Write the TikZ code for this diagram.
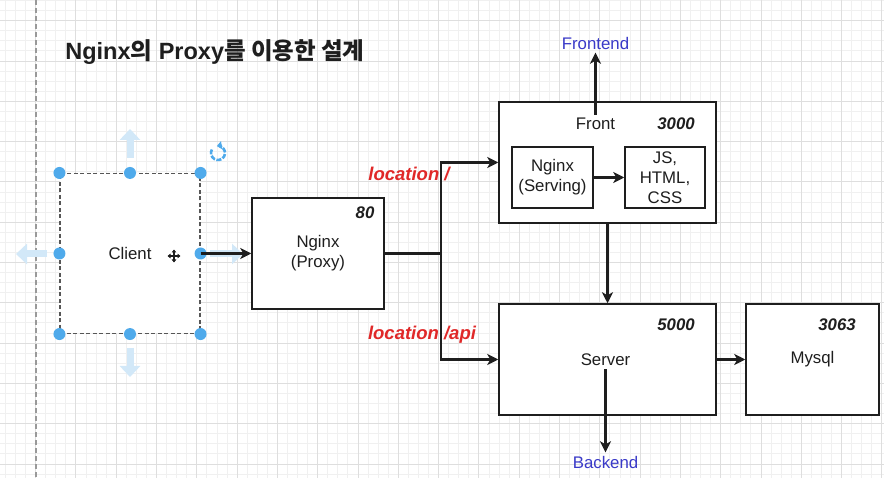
\documentclass[tikz,border=0pt]{standalone}
\usepackage{fontspec}
\setmainfont{Liberation Sans}
\newfontfamily\kr{Noto Sans CJK KR}
\usetikzlibrary{arrows.meta}
\definecolor{ink}{HTML}{1E1E1E}
\definecolor{locred}{HTML}{E02828}
\definecolor{linkblue}{HTML}{3A3AC8}
\definecolor{selblue}{HTML}{4FAAEB}
\definecolor{ghostblue}{HTML}{D2E8F8}
\definecolor{gridminor}{HTML}{F0F0F0}
\definecolor{gridmajor}{HTML}{DEDEDE}
\tikzset{
  box/.style={draw=ink, line width=1.5pt, fill=white, inner sep=0pt},
  wire/.style={draw=ink, line width=2.2pt},
  arr/.style={wire, -{Stealth[length=11pt,width=11pt,inset=3pt]}},
  port/.style={font=\fontsize{16.8}{20}\selectfont\bfseries\itshape},
  loc/.style={text=locred, font=\fontsize{18.5}{20}\selectfont\bfseries\itshape},
  link/.style={text=linkblue},
  handle/.style={circle, fill=selblue, minimum size=12pt, inner sep=0pt},
  ghost/.style={draw=ghostblue, line width=7pt, -{Triangle[length=11pt,width=20pt]}},
}
\begin{document}
\begin{tikzpicture}[x=1pt, y=-1pt,
    every node/.append style={font=\fontsize{16.8}{20}\selectfont, text=ink}]
  \fill[white] (0,0) rectangle (884,478);
  \clip (0,0) rectangle (884,478);
  \useasboundingbox (0,0) rectangle (884,478);
  % grid
  \foreach \i in {-3,...,84}
    \draw[gridminor, line width=0.9pt] ({35.6+10.075*\i},0) -- ({35.6+10.075*\i},478);
  \foreach \i in {-2,...,46}
    \draw[gridminor, line width=0.9pt] (0,{20.7+10.075*\i}) -- (884,{20.7+10.075*\i});
  \foreach \i in {-1,...,21}
    \draw[gridmajor, line width=0.9pt] ({35.6+40.3*\i},0) -- ({35.6+40.3*\i},478);
  \foreach \i in {-1,...,11}
    \draw[gridmajor, line width=0.9pt] (0,{20.7+40.3*\i}) -- (884,{20.7+40.3*\i});
  \draw[black!40, line width=1.2pt, dash pattern=on 5pt off 3pt] (36,0) -- (36,478);

  \node (title) at (215,52) {\fontsize{23.5}{28}\selectfont\bfseries Nginx{\kr 의} Proxy{\kr 를 이용한 설계}};

  % boxes
  \node[box, draw=ink!75, line width=1.1pt, dash pattern=on 4pt off 2.5pt, minimum width=140pt, minimum height=160pt] (client) at (130,253.5) {Client};
  \node[box, minimum width=132pt, minimum height=111pt, align=center] (proxy) at (318,253.5) {Nginx\\(Proxy)};
  \node[box, minimum width=217pt, minimum height=121pt] (front) at (607.5,162.5) {};
  \node[box, minimum width=81pt, minimum height=61pt, align=center] (serving) at (552.5,177.5) {Nginx\\(Serving)};
  \node[box, minimum width=80pt, minimum height=61pt, align=center] (static) at (665,177.5) {JS,\\HTML,\\CSS};
  \node[box, minimum width=217pt, minimum height=111pt] (server) at (607.5,359.5) {};
  \node[box, minimum width=133pt, minimum height=111pt] (mysql) at (812.5,359.5) {Mysql};

  \node (frontlbl) at (595.5,124) {Front};
  \node (serverlbl) at (605.5,360) {Server};
  \node[port] (p80) at (365,213) {80};
  \node[port] (p3000) at (676,124) {3000};
  \node[port] (p5000) at (676,325) {5000};
  \node[port] (p3063) at (837,325) {3063};
  \node[loc] (locfront) at (409,174) {location /};
  \node[loc] (locapi) at (422,335) {location /api};
  \node[link] (frontend) at (595.5,43) {Frontend};
  \node[link] (backend) at (605.5,462) {Backend};

  % selection handles
  \draw[ghost] (130,158) -- (130,129);
  \draw[ghost] (130,348) -- (130,377);
  \draw[ghost] (47,254) -- (16,254);
  \draw[ghost] (210,254) -- (243,254);
  \foreach \a [count=\k] in {north west,north,north east,east,south east,south,south west,west}
    \node[handle] (hdl\k) at (client.\a) {};
  \draw[selblue, line width=2.6pt, dash pattern=on 5pt off 1.5pt, -{Triangle[length=5pt,width=8pt]}]
    (218,153) ++(210:7) arc[start angle=210, end angle=-100, radius=7];
  \draw[ink, line width=1.1pt, {Triangle[length=3pt,width=4.5pt]}-{Triangle[length=3pt,width=4.5pt]}]
    (167.5,256) -- (180.5,256);
  \draw[ink, line width=1.1pt, {Triangle[length=3pt,width=4.5pt]}-{Triangle[length=3pt,width=4.5pt]}]
    (174,249.5) -- (174,262.5);

  % connectors
  \coordinate (jn) at (441,253.5);
  \draw[arr] (client.east) -- (proxy.west);
  \draw[wire] (proxy.east) -- (jn);
  \draw[arr] (jn) |- (front.west);
  \draw[arr] (jn) |- (server.west);
  \draw[arr] (serving.east) -- (static.west);
  \draw[arr] (frontlbl.north) -- (frontlbl.north|-frontend.south);
  \draw[arr] (front.south) -- (server.north);
  \draw[arr] (serverlbl.south) -- (serverlbl.south|-backend.north);
  \draw[arr] (server.east) -- (mysql.west);
\end{tikzpicture}
\end{document}
